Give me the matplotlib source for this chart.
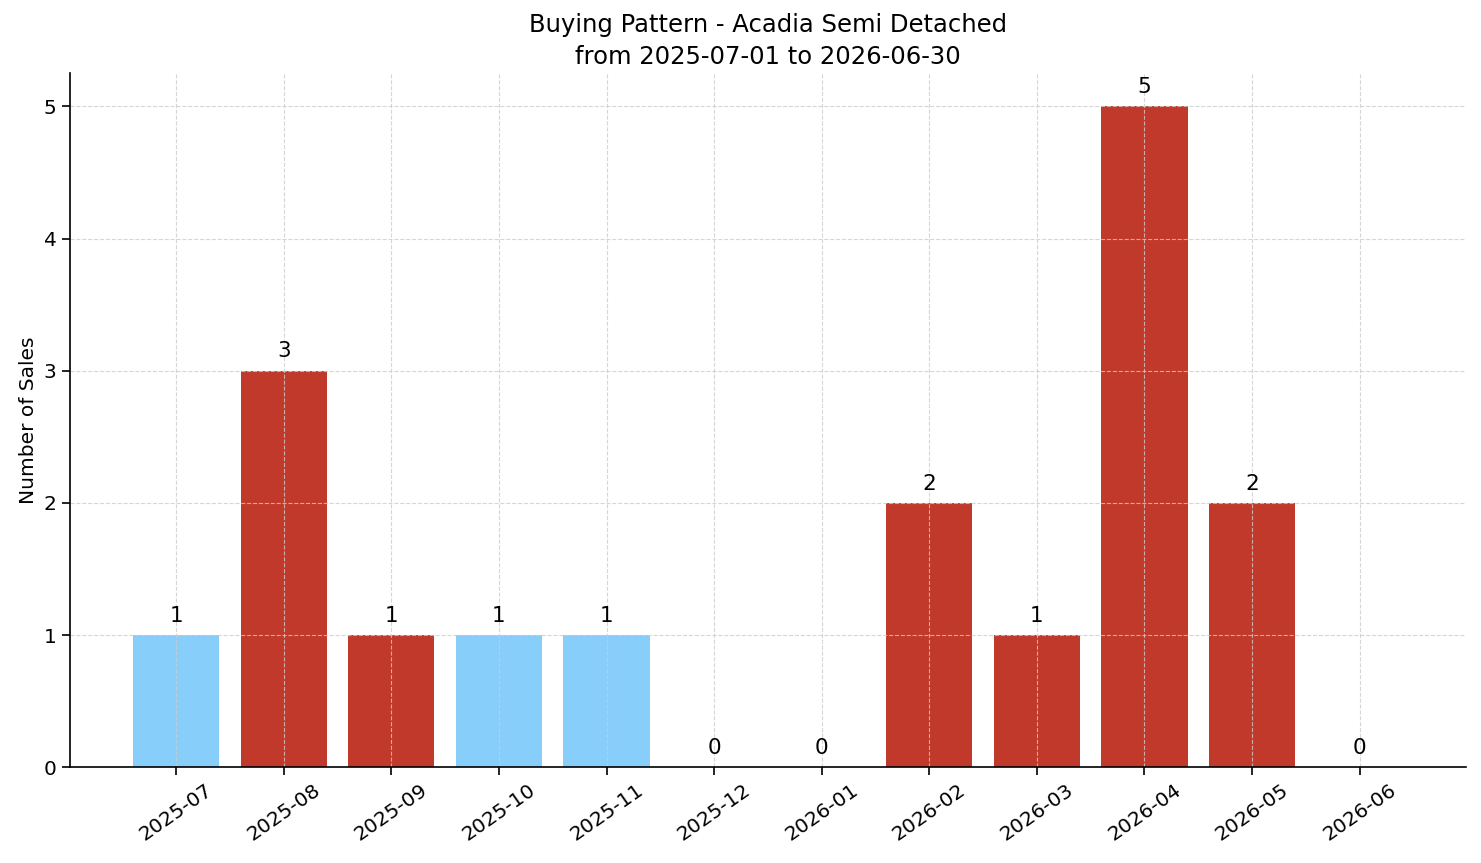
from matplotlib import pyplot as plt
import numpy as np

# monthly sales counts
months = ['2025-07', '2025-08', '2025-09', '2025-10', '2025-11', '2025-12',
          '2026-01', '2026-02', '2026-03', '2026-04', '2026-05', '2026-06']
sales = [1, 3, 1, 1, 1, 0, 0, 2, 1, 5, 2, 0]
bar_colors = ['#87CEFA', '#C0392B', '#C0392B', '#87CEFA', '#87CEFA', '#C0392B',
              '#C0392B', '#C0392B', '#C0392B', '#C0392B', '#C0392B', '#C0392B']

fig, ax = plt.subplots(figsize=(14.81, 8.63), dpi=100)
fig.subplots_adjust(left=0.047, right=0.99, top=0.915, bottom=0.111)

x = np.arange(len(months))
bars = ax.bar(x, sales, color=bar_colors, width=0.8)

for b, v in zip(bars, sales):
    ax.text(b.get_x() + b.get_width() / 2, v + 0.07, str(v),
            ha='center', va='bottom', fontsize=15.5)

ax.set_xticks(x)
ax.set_xticklabels(months, rotation=35, ha='center', fontsize=14.5)
ax.tick_params(axis='y', labelsize=14.5)
ax.tick_params(length=6, width=1.2)
ax.set_ylabel('Number of Sales', fontsize=14.5)
ax.set_title('Buying Pattern - Acadia Semi Detached\nfrom 2025-07-01 to 2026-06-30',
             fontsize=17.5, linespacing=1.4, pad=7)

ax.grid(True, linestyle='--', color='#cccccc', alpha=0.8, linewidth=0.8)
ax.spines['top'].set_visible(False)
ax.spines['right'].set_visible(False)
ax.spines['left'].set_linewidth(1.2)
ax.spines['bottom'].set_linewidth(1.2)

plt.savefig('out.png', dpi=100)
